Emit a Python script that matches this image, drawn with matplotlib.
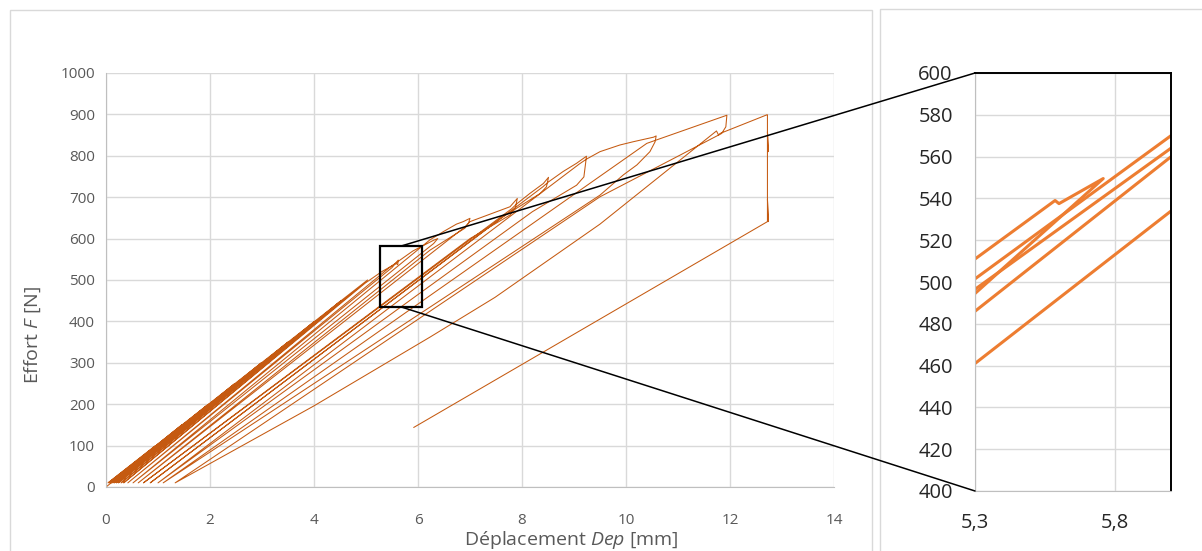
import matplotlib
matplotlib.use('Agg')
import matplotlib.pyplot as plt
from matplotlib.patches import Rectangle, ConnectionPatch
import numpy as np

plt.rcParams['font.family'] = ['Open Sans', 'DejaVu Sans']
plt.rcParams['mathtext.fontset'] = 'custom'
plt.rcParams['mathtext.rm'] = 'Open Sans'
plt.rcParams['mathtext.it'] = 'Open Sans:italic'

# --- load / unload cycles: displacement [mm], effort [N] ---
cycle_x = [
    [0.00, 0.10, 0.95, 0.04],                       # 100 N
    [0.04, 0.92, 1.46, 0.07],                       # 150 N
    [0.07, 1.42, 1.97, 0.10],                       # 200 N
    [0.10, 1.93, 2.48, 0.13],                       # 250 N
    [0.13, 2.44, 2.99, 0.16],                       # 300 N
    [0.16, 2.95, 3.50, 0.20],                       # 350 N
    [0.20, 3.46, 4.01, 0.24],                       # 400 N
    [0.24, 3.97, 4.52, 0.29],                       # 450 N
    [0.29, 4.48, 5.03, 0.34],                       # 500 N
    [0.34, 4.98, 5.30, 5.58, 5.61, 5.62, 5.50, 0.42],   # 550 N
    [0.42, 5.45, 5.90, 6.30, 6.38, 6.30, 0.52],          # 600 N
    [0.52, 6.23, 6.49, 6.74, 6.87, 7.00, 6.97, 6.90, 6.23, 0.62],   # 650 N
    [0.62, 6.90, 7.00, 7.51, 7.77, 7.91, 7.87, 7.77, 7.00, 0.72],   # 700 N
    [0.72, 7.80, 7.91, 8.15, 8.41, 8.51, 8.47, 8.35, 7.60, 0.85],   # 750 N
    [0.85, 8.40, 8.51, 8.79, 9.05, 9.24, 9.19, 9.05, 8.20, 1.00],   # 800 N
    [1.00, 9.10, 9.24, 9.50, 9.88, 10.14, 10.53, 10.58, 10.56, 10.46,
     10.21, 9.95, 9.50, 1.10],                                      # 850 N
    [1.10, 10.40, 10.58, 11.94, 11.92, 11.84, 9.50, 1.33],          # 900 N
    [1.33, 4.00, 6.23, 7.48, 9.50, 11.74, 11.78, 11.81, 12.71, 12.72,
     12.72, 12.735, 12.72, 12.72, 12.735, 12.72, 12.72, 5.92],      # rupture
]
cycle_f = [
    [0, 10, 100, 10],
    [10, 96, 150, 10],
    [10, 146, 200, 10],
    [10, 196, 250, 10],
    [10, 246, 300, 10],
    [10, 296, 350, 10],
    [10, 346, 400, 10],
    [10, 396, 450, 10],
    [10, 446, 500, 10],
    [10, 492, 520, 540, 537, 548, 530, 10],
    [10, 530, 570, 596, 600, 588, 10],
    [10, 597, 617, 635, 641, 649, 637, 625, 572, 10],
    [10, 628, 641, 665, 677, 697, 673, 657, 600, 10],
    [10, 672, 685, 709, 733, 748, 725, 709, 650, 10],
    [10, 725, 737, 762, 782, 799, 749, 729, 665, 10],
    [10, 780, 792, 810, 826, 834, 845, 848, 834, 810,
     778, 754, 705, 10],
    [10, 830, 838, 898, 870, 854, 701, 10],
    [10, 196, 362, 458, 635, 860, 850, 854, 899, 899,
     860, 810, 858, 698, 641, 695, 641, 144],
]

# --- zoomed detail (right panel) ---
zoom_x = [
    [5.30, 5.586, 5.600, 5.758, 5.30],
    [5.30, 6.01],
    [5.30, 6.01],
    [5.30, 6.01],
    [5.30, 6.01],
]
zoom_f = [
    [511, 539, 537.5, 549.5, 494.5],
    [501.5, 571],
    [496.5, 565],
    [486, 561],
    [461, 535],
]

x_ticks = [0, 2, 4, 6, 8, 10, 12, 14]
y_ticks = [0, 100, 200, 300, 400, 500, 600, 700, 800, 900, 1000]
zoom_xticks = [5.3, 5.8]
zoom_xlabels = ['5,3', '5,8']
zoom_yticks = [400, 420, 440, 460, 480, 500, 520, 540, 560, 580, 600]

W, H = 1202, 551
fig = plt.figure(figsize=(W / 100, H / 100), dpi=100)

# panel borders
fig.add_artist(Rectangle((10 / W, -0.05), 862 / W, (H - 10) / H + 0.05,
                         transform=fig.transFigure, fill=False,
                         ec='#d9d9d9', lw=1))
fig.add_artist(Rectangle((880 / W, -0.05), 340 / W, (H - 9) / H + 0.05,
                         transform=fig.transFigure, fill=False,
                         ec='#d9d9d9', lw=1))

# --- main chart ---
ax = fig.add_axes([106 / W, (H - 487) / H, 728 / W, 414 / H])
x = np.concatenate([np.array(c, dtype=float) for c in cycle_x])
f = np.concatenate([np.array(c, dtype=float) for c in cycle_f])
ax.plot(x, f, color='#C55A11', lw=0.75)
ax.set_xlim(0, 14)
ax.set_ylim(0, 1000)
ax.set_xticks(x_ticks)
ax.set_yticks(y_ticks)
ax.grid(True, color='#d9d9d9', lw=1.0)
ax.set_axisbelow(True)
for s in ['top', 'right']:
    ax.spines[s].set_visible(False)
for s in ['left', 'bottom']:
    ax.spines[s].set_color('#bfbfbf')
ax.tick_params(length=0, labelsize=11, labelcolor='#595959')
ax.tick_params(axis='x', pad=19)
ax.tick_params(axis='y', pad=8)

ax.add_patch(Rectangle((5.27, 435), 0.807, 147, fill=False, ec='black',
                       lw=1.6, zorder=5))

fig.text(571 / W, (H - 540) / H, 'Déplacement $Dep$ [mm]', ha='center',
         va='center', fontsize=14, color='#595959')
fig.text(33 / W, (H - 335) / H, 'Effort $F$ [N]', ha='center', va='center',
         rotation=90, fontsize=14, color='#595959')

# --- zoom chart ---
axin = fig.add_axes([975 / W, (H - 491) / H, 196 / W, 418 / H])
for zx, zf in zip(zoom_x, zoom_f):
    axin.plot(zx, zf, color='#ED7D31', lw=2.2, solid_capstyle='butt')
axin.set_xlim(5.3, 6.0)
axin.set_ylim(400, 600)
axin.set_xticks(zoom_xticks)
axin.set_xticklabels(zoom_xlabels)
axin.set_yticks(zoom_yticks)
axin.grid(True, color='#d9d9d9', lw=1.0)
axin.set_axisbelow(True)
for s in ['top', 'right']:
    axin.spines[s].set_color('black')
    axin.spines[s].set_linewidth(1.4)
for s in ['left', 'bottom']:
    axin.spines[s].set_color('#bfbfbf')
axin.tick_params(length=0, labelsize=14.5, labelcolor='#262626')
axin.tick_params(axis='x', pad=16)
axin.tick_params(axis='y', pad=16)

# connector lines
for ya, yb in [(582, 1), (435, 0)]:
    con = ConnectionPatch(xyA=(5.675, ya), coordsA='data', axesA=ax,
                          xyB=(0, yb), coordsB='axes fraction', axesB=axin,
                          color='black', lw=1.1)
    fig.add_artist(con)

fig.savefig('out.png', dpi=100)
